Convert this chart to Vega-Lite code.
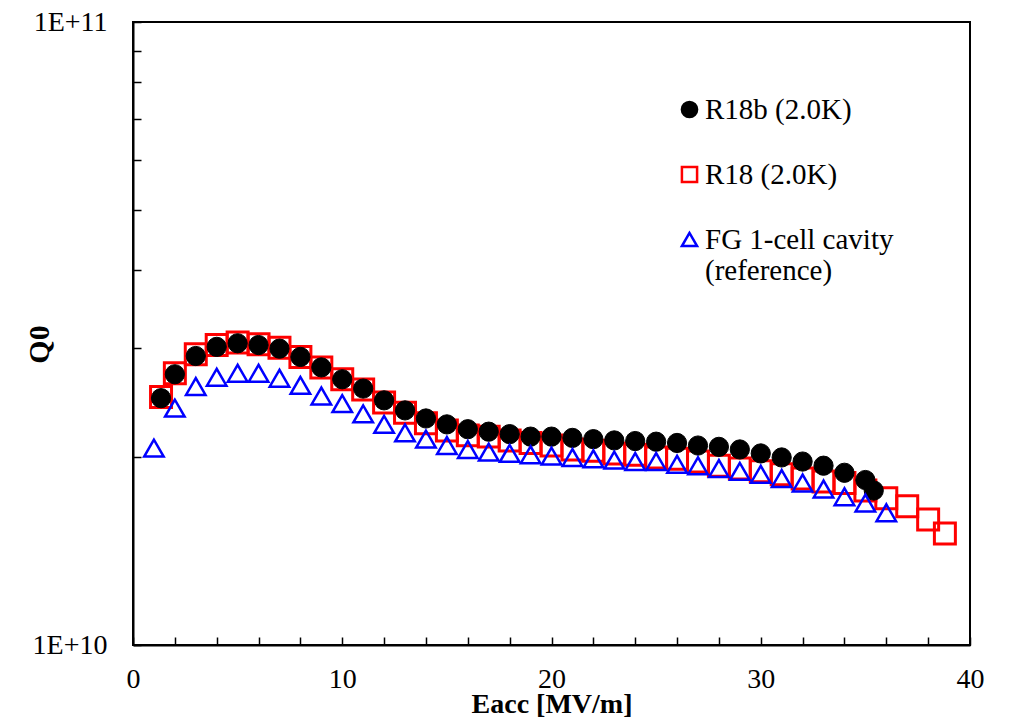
{
  "$schema": "https://vega.github.io/schema/vega-lite/v6.json",
  "width": 837,
  "height": 623,
  "autosize": "none",
  "padding": {"left": 133, "top": 22, "right": 39, "bottom": 72},
  "background": "white",
  "config": {
    "view": {"stroke": "black", "strokeWidth": 2},
    "font": "Liberation Serif",
    "legend": {
      "labelFont": "Liberation Serif", "labelFontSize": 29, "labelColor": "black",
      "labelLimit": 400, "labelOffset": 1, "rowPadding": 35, "symbolSize": 230, "symbolStrokeWidth": 2.5,
      "labelBaseline": "middle", "padding": 0
    }
  },
  "data": {
    "values": [
      {"s": "R18 (2.0K)", "e": 1.34, "q": 2.50e10},
      {"s": "R18 (2.0K)", "e": 2, "q": 2.73e10},
      {"s": "R18 (2.0K)", "e": 3, "q": 2.93e10},
      {"s": "R18 (2.0K)", "e": 4, "q": 3.03e10},
      {"s": "R18 (2.0K)", "e": 5, "q": 3.06e10},
      {"s": "R18 (2.0K)", "e": 6, "q": 3.04e10},
      {"s": "R18 (2.0K)", "e": 7, "q": 3.00e10},
      {"s": "R18 (2.0K)", "e": 8, "q": 2.90e10},
      {"s": "R18 (2.0K)", "e": 9, "q": 2.79e10},
      {"s": "R18 (2.0K)", "e": 10, "q": 2.67e10},
      {"s": "R18 (2.0K)", "e": 11, "q": 2.57e10},
      {"s": "R18 (2.0K)", "e": 12, "q": 2.45e10},
      {"s": "R18 (2.0K)", "e": 13, "q": 2.36e10},
      {"s": "R18 (2.0K)", "e": 14, "q": 2.27e10},
      {"s": "R18 (2.0K)", "e": 15, "q": 2.21e10},
      {"s": "R18 (2.0K)", "e": 16, "q": 2.17e10},
      {"s": "R18 (2.0K)", "e": 17, "q": 2.16e10},
      {"s": "R18 (2.0K)", "e": 18, "q": 2.13e10},
      {"s": "R18 (2.0K)", "e": 19, "q": 2.11e10},
      {"s": "R18 (2.0K)", "e": 20, "q": 2.09e10},
      {"s": "R18 (2.0K)", "e": 21, "q": 2.06e10},
      {"s": "R18 (2.0K)", "e": 22, "q": 2.05e10},
      {"s": "R18 (2.0K)", "e": 23, "q": 2.03e10},
      {"s": "R18 (2.0K)", "e": 24, "q": 2.02e10},
      {"s": "R18 (2.0K)", "e": 25, "q": 2.00e10},
      {"s": "R18 (2.0K)", "e": 26, "q": 1.99e10},
      {"s": "R18 (2.0K)", "e": 27, "q": 1.97e10},
      {"s": "R18 (2.0K)", "e": 28, "q": 1.94e10},
      {"s": "R18 (2.0K)", "e": 29, "q": 1.92e10},
      {"s": "R18 (2.0K)", "e": 30, "q": 1.90e10},
      {"s": "R18 (2.0K)", "e": 31, "q": 1.88e10},
      {"s": "R18 (2.0K)", "e": 32, "q": 1.85e10},
      {"s": "R18 (2.0K)", "e": 33, "q": 1.83e10},
      {"s": "R18 (2.0K)", "e": 34, "q": 1.82e10},
      {"s": "R18 (2.0K)", "e": 35, "q": 1.77e10},
      {"s": "R18 (2.0K)", "e": 36, "q": 1.72e10},
      {"s": "R18 (2.0K)", "e": 37, "q": 1.67e10},
      {"s": "R18 (2.0K)", "e": 38, "q": 1.59e10},
      {"s": "R18 (2.0K)", "e": 38.8, "q": 1.51e10},
      {"s": "R18b (2.0K)", "e": 1.34, "q": 2.49e10},
      {"s": "R18b (2.0K)", "e": 2, "q": 2.72e10},
      {"s": "R18b (2.0K)", "e": 3, "q": 2.91e10},
      {"s": "R18b (2.0K)", "e": 4, "q": 3.01e10},
      {"s": "R18b (2.0K)", "e": 5, "q": 3.05e10},
      {"s": "R18b (2.0K)", "e": 6, "q": 3.03e10},
      {"s": "R18b (2.0K)", "e": 7, "q": 2.99e10},
      {"s": "R18b (2.0K)", "e": 8, "q": 2.90e10},
      {"s": "R18b (2.0K)", "e": 9, "q": 2.79e10},
      {"s": "R18b (2.0K)", "e": 10, "q": 2.67e10},
      {"s": "R18b (2.0K)", "e": 11, "q": 2.58e10},
      {"s": "R18b (2.0K)", "e": 12, "q": 2.47e10},
      {"s": "R18b (2.0K)", "e": 13, "q": 2.38e10},
      {"s": "R18b (2.0K)", "e": 14, "q": 2.31e10},
      {"s": "R18b (2.0K)", "e": 15, "q": 2.26e10},
      {"s": "R18b (2.0K)", "e": 16, "q": 2.22e10},
      {"s": "R18b (2.0K)", "e": 17, "q": 2.20e10},
      {"s": "R18b (2.0K)", "e": 18, "q": 2.18e10},
      {"s": "R18b (2.0K)", "e": 19, "q": 2.16e10},
      {"s": "R18b (2.0K)", "e": 20, "q": 2.16e10},
      {"s": "R18b (2.0K)", "e": 21, "q": 2.15e10},
      {"s": "R18b (2.0K)", "e": 22, "q": 2.14e10},
      {"s": "R18b (2.0K)", "e": 23, "q": 2.13e10},
      {"s": "R18b (2.0K)", "e": 24, "q": 2.125e10},
      {"s": "R18b (2.0K)", "e": 25, "q": 2.12e10},
      {"s": "R18b (2.0K)", "e": 26, "q": 2.11e10},
      {"s": "R18b (2.0K)", "e": 27, "q": 2.09e10},
      {"s": "R18b (2.0K)", "e": 28, "q": 2.08e10},
      {"s": "R18b (2.0K)", "e": 29, "q": 2.06e10},
      {"s": "R18b (2.0K)", "e": 30, "q": 2.03e10},
      {"s": "R18b (2.0K)", "e": 31, "q": 2.00e10},
      {"s": "R18b (2.0K)", "e": 32, "q": 1.97e10},
      {"s": "R18b (2.0K)", "e": 33, "q": 1.94e10},
      {"s": "R18b (2.0K)", "e": 34, "q": 1.89e10},
      {"s": "R18b (2.0K)", "e": 35, "q": 1.84e10},
      {"s": "R18b (2.0K)", "e": 35.4, "q": 1.77e10},
      {"s": "FG 1-cell cavity (reference)", "e": 1, "q": 2.07e10},
      {"s": "FG 1-cell cavity (reference)", "e": 2, "q": 2.40e10},
      {"s": "FG 1-cell cavity (reference)", "e": 3, "q": 2.60e10},
      {"s": "FG 1-cell cavity (reference)", "e": 4, "q": 2.69e10},
      {"s": "FG 1-cell cavity (reference)", "e": 5, "q": 2.73e10},
      {"s": "FG 1-cell cavity (reference)", "e": 6, "q": 2.73e10},
      {"s": "FG 1-cell cavity (reference)", "e": 7, "q": 2.68e10},
      {"s": "FG 1-cell cavity (reference)", "e": 8, "q": 2.61e10},
      {"s": "FG 1-cell cavity (reference)", "e": 9, "q": 2.51e10},
      {"s": "FG 1-cell cavity (reference)", "e": 10, "q": 2.44e10},
      {"s": "FG 1-cell cavity (reference)", "e": 11, "q": 2.35e10},
      {"s": "FG 1-cell cavity (reference)", "e": 12, "q": 2.26e10},
      {"s": "FG 1-cell cavity (reference)", "e": 13, "q": 2.19e10},
      {"s": "FG 1-cell cavity (reference)", "e": 14, "q": 2.14e10},
      {"s": "FG 1-cell cavity (reference)", "e": 15, "q": 2.09e10},
      {"s": "FG 1-cell cavity (reference)", "e": 16, "q": 2.06e10},
      {"s": "FG 1-cell cavity (reference)", "e": 17, "q": 2.04e10},
      {"s": "FG 1-cell cavity (reference)", "e": 18, "q": 2.03e10},
      {"s": "FG 1-cell cavity (reference)", "e": 19, "q": 2.02e10},
      {"s": "FG 1-cell cavity (reference)", "e": 20, "q": 2.01e10},
      {"s": "FG 1-cell cavity (reference)", "e": 21, "q": 2.00e10},
      {"s": "FG 1-cell cavity (reference)", "e": 22, "q": 1.99e10},
      {"s": "FG 1-cell cavity (reference)", "e": 23, "q": 1.98e10},
      {"s": "FG 1-cell cavity (reference)", "e": 24, "q": 1.97e10},
      {"s": "FG 1-cell cavity (reference)", "e": 25, "q": 1.97e10},
      {"s": "FG 1-cell cavity (reference)", "e": 26, "q": 1.95e10},
      {"s": "FG 1-cell cavity (reference)", "e": 27, "q": 1.94e10},
      {"s": "FG 1-cell cavity (reference)", "e": 28, "q": 1.92e10},
      {"s": "FG 1-cell cavity (reference)", "e": 29, "q": 1.90e10},
      {"s": "FG 1-cell cavity (reference)", "e": 30, "q": 1.88e10},
      {"s": "FG 1-cell cavity (reference)", "e": 31, "q": 1.85e10},
      {"s": "FG 1-cell cavity (reference)", "e": 32, "q": 1.82e10},
      {"s": "FG 1-cell cavity (reference)", "e": 33, "q": 1.78e10},
      {"s": "FG 1-cell cavity (reference)", "e": 34, "q": 1.73e10},
      {"s": "FG 1-cell cavity (reference)", "e": 35, "q": 1.69e10},
      {"s": "FG 1-cell cavity (reference)", "e": 36, "q": 1.63e10}
    ]
  },
  "mark": {"type": "point", "filled": false, "opacity": 1},
  "encoding": {
    "x": {
      "field": "e", "type": "quantitative",
      "scale": {"domain": [0, 40], "nice": false, "zero": false},
      "axis": {
        "title": "Eacc [MV/m]",
        "values": [0, 2, 4, 6, 8, 10, 12, 14, 16, 18, 20, 22, 24, 26, 28, 30, 32, 34, 36, 38, 40],
        "labelExpr": "datum.value % 10 == 0 ? datum.label : ''",
        "grid": false, "domainColor": "black", "domainWidth": 2,
        "tickColor": "black", "tickSize": -8, "tickWidth": 1.5,
        "labelFont": "Liberation Serif", "labelFontSize": 28, "labelColor": "black",
        "labelPadding": 42, "labelBaseline": "middle", "labelFlush": false,
        "titleFont": "Liberation Serif", "titleFontSize": 28, "titleFontWeight": "bold", "titleColor": "black",
        "titleY": 67, "titleBaseline": "alphabetic"
      }
    },
    "y": {
      "field": "q", "type": "quantitative",
      "scale": {"type": "log", "domain": [1e10, 1e11], "nice": false},
      "axis": {
        "title": "Q0",
        "values": [1e10, 2e10, 3e10, 4e10, 5e10, 6e10, 7e10, 8e10, 9e10, 1e11],
        "labelExpr": "datum.value == 1e10 ? '1E+10' : (datum.value == 1e11 ? '1E+11' : '')",
        "grid": false, "domainColor": "black", "domainWidth": 2,
        "tickColor": "black", "tickSize": -8, "tickWidth": 1.5,
        "labelFont": "Liberation Serif", "labelFontSize": 28, "labelColor": "black",
        "labelPadding": 34, "labelFlush": false,
        "titleFont": "Liberation Serif", "titleFontSize": 30, "titleFontWeight": "bold", "titleColor": "black",
        "titleX": -94, "titleY": 322, "titleAngle": -90, "titleBaseline": "middle", "titleAlign": "center"
      }
    },
    "shape": {
      "field": "s", "type": "nominal",
      "scale": {"domain": ["R18b (2.0K)", "R18 (2.0K)", "FG 1-cell cavity (reference)"], "range": ["circle", "square", "triangle-up"]},
      "legend": {
        "title": null, "orient": "none", "legendX": 542, "legendY": 73,
        "labelExpr": "datum.label == 'FG 1-cell cavity (reference)' ? ['FG 1-cell cavity', '(reference)'] : datum.label"
      }
    },
    "stroke": {
      "field": "s", "type": "nominal",
      "scale": {"domain": ["R18b (2.0K)", "R18 (2.0K)", "FG 1-cell cavity (reference)"], "range": ["black", "#ff0000", "#0000ff"]}
    },
    "fill": {
      "field": "s", "type": "nominal",
      "scale": {"domain": ["R18b (2.0K)", "R18 (2.0K)", "FG 1-cell cavity (reference)"], "range": ["black", "transparent", "transparent"]}
    },
    "size": {
      "field": "s", "type": "nominal",
      "scale": {"type": "ordinal", "domain": ["R18 (2.0K)", "R18b (2.0K)", "FG 1-cell cavity (reference)"], "range": [440, 370, 380]},
      "legend": null
    },
    "strokeWidth": {
      "field": "s", "type": "nominal",
      "scale": {"type": "ordinal", "domain": ["FG 1-cell cavity (reference)", "R18b (2.0K)", "R18 (2.0K)"], "range": [2.5, 1, 3]},
      "legend": null
    }
  }
}
